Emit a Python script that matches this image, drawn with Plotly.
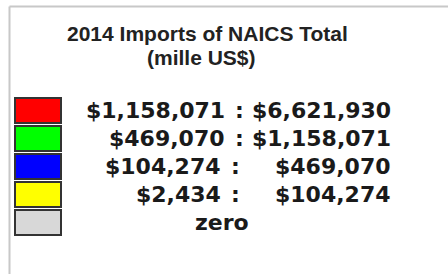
import plotly.graph_objects as go

title_lines = ["2014 Imports of NAICS Total", "(mille US$)"]
colors = ["#ff0000", "#00ff00", "#0000ff", "#ffff00", "#d8d8d8"]
low_labels = ["$1,158,071", "$469,070", "$104,274", "$2,434", ""]
high_labels = ["$6,621,930", "$1,158,071", "$469,070", "$104,274", ""]
special_labels = ["", "", "", "", "zero"]
rows = list(range(len(colors)))

W, H = 448, 274
fig = go.Figure()

# swatches as horizontal bars
fig.add_trace(go.Bar(
    y=rows, x=[46] * len(rows), base=15, orientation="h",
    width=25 / 28,
    marker=dict(color=colors, line=dict(color="#333333", width=2)),
    hoverinfo="skip", showlegend=False,
))

txt_font = dict(family="DejaVu Sans", size=22, color="#1a1a1a")
ann = []
for i in rows:
    if low_labels[i]:
        colon_x = 239 if i < 2 else 235
        ann.append(dict(x=colon_x - 12, y=i, xref="x", yref="y", text="<b>%s</b>" % low_labels[i],
                        showarrow=False, xanchor="right", yanchor="middle", font=txt_font))
        ann.append(dict(x=colon_x, y=i, xref="x", yref="y", text="<b>:</b>",
                        showarrow=False, xanchor="center", yanchor="middle", font=txt_font))
        ann.append(dict(x=393, y=i, xref="x", yref="y", text="<b>%s</b>" % high_labels[i],
                        showarrow=False, xanchor="right", yanchor="middle", font=txt_font))
    if special_labels[i]:
        ann.append(dict(x=222, y=i, xref="x", yref="y", text="<b>%s</b>" % special_labels[i],
                        showarrow=False, xanchor="center", yanchor="middle", font=txt_font))

tfont = dict(family="Liberation Sans", size=21, color="#222222")
ann.append(dict(x=207, y=33.5, xref="x", yref="paper", text="<b>%s</b>" % title_lines[0],
                showarrow=False, xanchor="center", yanchor="middle", font=tfont))
ann.append(dict(x=201, y=57, xref="x", yref="paper", text="<b>%s</b>" % title_lines[1],
                showarrow=False, xanchor="center", yanchor="middle", font=tfont))
# convert title y from pixels to paper
for a in ann[-2:]:
    a["y"] = 1 - a["y"] / H

fig.update_layout(
    width=W, height=H, margin=dict(l=0, r=0, t=0, b=0),
    paper_bgcolor="white", plot_bgcolor="white",
    xaxis=dict(range=[0, W], visible=False, fixedrange=True),
    yaxis=dict(range=[(H - 110.5) / 28, -110.5 / 28], visible=False, fixedrange=True),
    annotations=ann,
    shapes=[
        dict(type="line", xref="x", yref="paper", x0=9.5, x1=W, y0=1 - 6.5 / H, y1=1 - 6.5 / H,
             line=dict(color="#c8c8c8", width=2)),
        dict(type="line", xref="x", yref="paper", x0=9.5, x1=9.5, y0=0, y1=1 - 6.5 / H,
             line=dict(color="#c8c8c8", width=2)),
    ],
)
fig.write_html("out.html", config={"displayModeBar": False, "staticPlot": True},
               post_script="document.body.style.margin='0';document.body.style.overflow='hidden';")
